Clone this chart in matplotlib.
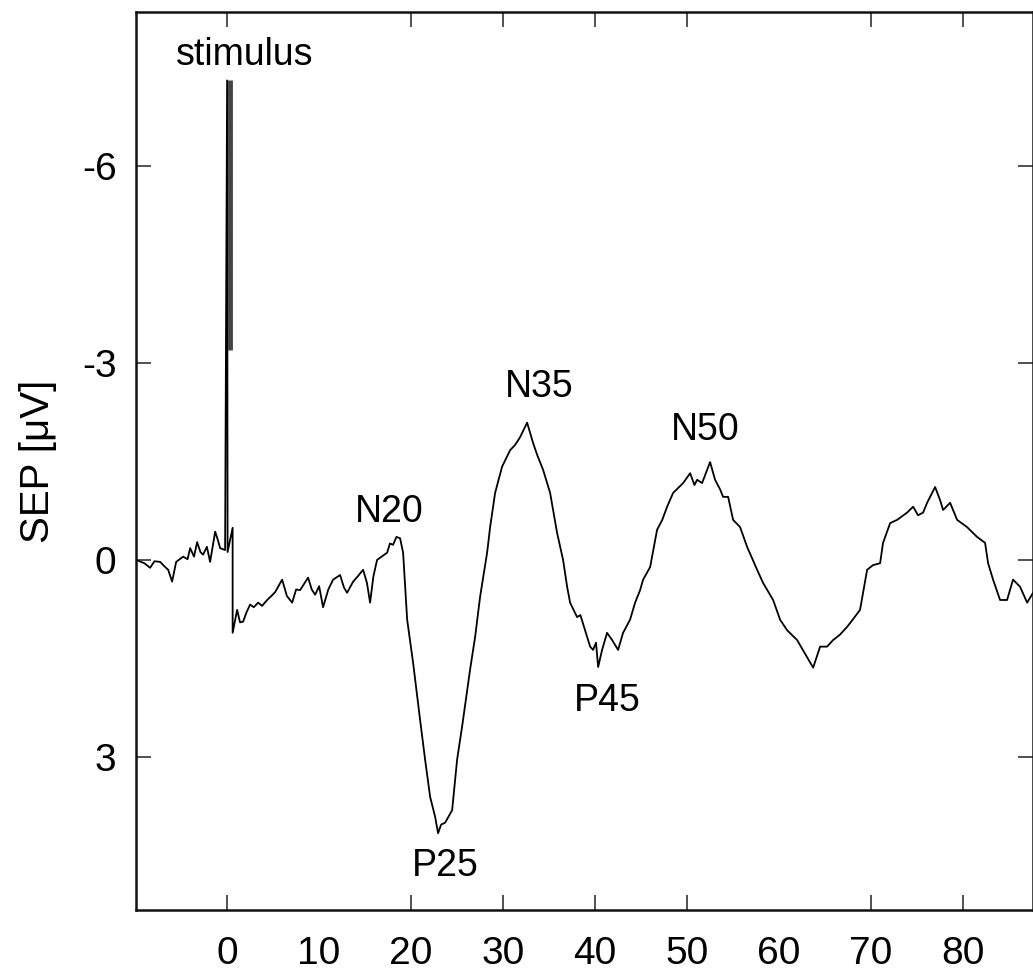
import matplotlib
matplotlib.use("Agg")
import matplotlib.pyplot as plt
import numpy as np

plt.rcParams['font.family'] = ['Liberation Sans', 'DejaVu Sans']

# SEP trace: time [ms], amplitude [uV] (negative plotted upward)
time_ms = [
    -9.9, -9.0, -8.37, -7.9, -7.28, -6.8, -6.41, -5.98, -5.54, -4.78, -4.3, -4.02,
    -3.6, -3.26, -2.9, -2.61, -2.2, -1.85, -1.30, -1.0, -0.76, -0.22,
    0.0, 0.05, 0.6, 0.6,
    1.09, 1.4, 1.74, 2.1, 2.5, 2.9, 3.37, 3.8, 4.35, 4.8, 5.22, 5.98, 6.5, 7.07,
    7.5, 7.93, 8.8, 9.2, 9.57, 10.0, 10.43, 11.0, 11.52, 12.28, 12.7, 13.04, 13.7,
    14.2, 14.78, 15.2, 15.54, 15.9, 16.3, 16.8, 17.39, 17.7, 18.04, 18.4, 18.8,
    19.13, 19.57, 20.22, 20.98, 21.52, 22.07, 22.61, 22.93, 23.26, 23.7, 24.46,
    25.0, 25.54, 26.41, 26.96, 27.5, 28.26, 28.59, 29.13, 29.89, 30.76, 31.3,
    31.85, 32.61, 33.26, 33.7, 34.35, 35.11, 35.87, 36.52, 36.96, 37.28, 38.04,
    38.4, 38.91, 39.46, 39.78, 40.1, 40.33, 40.76, 41.3, 41.85, 42.5, 43.04, 43.8,
    44.35, 44.89, 45.22, 45.98, 46.74, 47.3, 47.83, 48.48, 49.57, 50.33, 50.8,
    51.09, 51.63, 52.5, 53.04, 53.6, 53.91, 54.46, 55.0, 55.76, 56.52, 57.61,
    58.26, 59.35, 60.11, 60.87, 61.96, 63.04, 63.7, 64.46, 65.22, 65.87, 66.6,
    67.39, 68.0, 68.8, 69.13, 69.57, 70.2, 70.98, 71.3, 72.07, 72.83, 73.91,
    74.57, 75.1, 75.65, 76.09, 76.96, 77.5, 77.83, 78.59, 79.35, 80.43, 81.52,
    82.39, 82.72, 83.26, 84.02, 84.78, 85.43, 86.2, 86.96, 87.61,
]
sep_uv = [
    0.00, 0.05, 0.12, 0.02, 0.03, 0.10, 0.15, 0.33, 0.03, -0.05, -0.01, -0.18,
    -0.05, -0.27, -0.12, -0.08, -0.20, 0.03, -0.43, -0.30, -0.18, -0.15,
    -7.3, -0.12, -0.49, 1.11,
    0.76, 0.95, 0.94, 0.80, 0.68, 0.72, 0.65, 0.70, 0.61, 0.55, 0.49, 0.30, 0.55, 0.65,
    0.45, 0.46, 0.27, 0.45, 0.53, 0.40, 0.72, 0.45, 0.30, 0.23, 0.42, 0.50, 0.33,
    0.25, 0.15, 0.35, 0.65, 0.25, 0.00, -0.05, -0.11, -0.25, -0.23, -0.35, -0.33,
    -0.11, 0.91, 1.57, 2.44, 3.04, 3.61, 3.91, 4.16, 4.03, 4.00, 3.81,
    3.04, 2.54, 1.67, 1.17, 0.56, -0.11, -0.50, -1.02, -1.42, -1.67, -1.75,
    -1.87, -2.09, -1.78, -1.60, -1.37, -1.02, -0.41, 0.00, 0.41, 0.65, 0.87,
    0.84, 1.07, 1.32, 1.37, 1.26, 1.63, 1.37, 1.11, 1.22, 1.37, 1.11, 0.91,
    0.65, 0.46, 0.30, 0.11, -0.46, -0.61, -0.81, -1.02, -1.17, -1.32, -1.14,
    -1.22, -1.17, -1.49, -1.22, -1.07, -0.96, -0.96, -0.61, -0.50, -0.20, 0.15,
    0.35, 0.61, 0.91, 1.07, 1.22, 1.48, 1.64, 1.32, 1.32, 1.22, 1.14,
    1.02, 0.91, 0.76, 0.50, 0.15, 0.08, 0.05, -0.26, -0.56, -0.61, -0.72,
    -0.81, -0.68, -0.72, -0.87, -1.11, -0.91, -0.76, -0.87, -0.61, -0.50, -0.35,
    -0.26, 0.05, 0.30, 0.61, 0.61, 0.30, 0.41, 0.65, 0.50,
]

# stimulus marker (thick bar)
stim_t = [0.3, 0.3]
stim_v = [-7.3, -3.2]

# peak labels: (text, x, baseline y)
peak_names = ["stimulus", "N20", "P25", "N35", "P45", "N50"]
peak_x = [1.96, 17.6, 23.7, 33.9, 41.3, 51.96]
peak_y = [-7.53, -0.58, 4.81, -2.48, 2.30, -1.83]

x_ticks = [0, 10, 20, 30, 40, 50, 60, 70, 80]
y_ticks = [-6, -3, 0, 3]

fig = plt.figure(figsize=(10.33, 9.76), dpi=100)
ax = fig.add_axes([0.1317, 0.0676, 0.8683, 0.920])

ax.plot(time_ms, sep_uv, color='black', lw=1.3)
ax.plot(stim_t, stim_v, color='#444444', lw=3.5, solid_capstyle='butt')

for name, px, py in zip(peak_names, peak_x, peak_y):
    ax.text(px, py, name, ha='center', va='baseline', fontsize=27, color='black')

ax.set_xlim(-9.9, 87.6)
ax.set_ylim(5.33, -8.34)

ax.set_xticks(x_ticks)
ax.set_xticklabels([str(v) for v in x_ticks])
ax.set_yticks(y_ticks)
ax.set_yticklabels([str(v) for v in y_ticks])

ax.tick_params(axis='both', direction='in', length=11, width=1.1, labelsize=28,
               top=True, right=True, color='#222222')
ax.tick_params(axis='x', pad=19)
ax.tick_params(axis='y', pad=14)
# tick marks missing in the original print at 10 and 60
for tk, val in zip(ax.xaxis.get_major_ticks(), x_ticks):
    if val in (10, 60):
        tk.tick1line.set_visible(False)
        tk.tick2line.set_visible(False)

for sp in ax.spines.values():
    sp.set_linewidth(1.8)
    sp.set_color('#111111')

ax.set_ylabel('SEP [μV]', fontsize=29)
ax.yaxis.set_label_coords(-0.088, 0.5)

fig.savefig('out.png', dpi=100)
